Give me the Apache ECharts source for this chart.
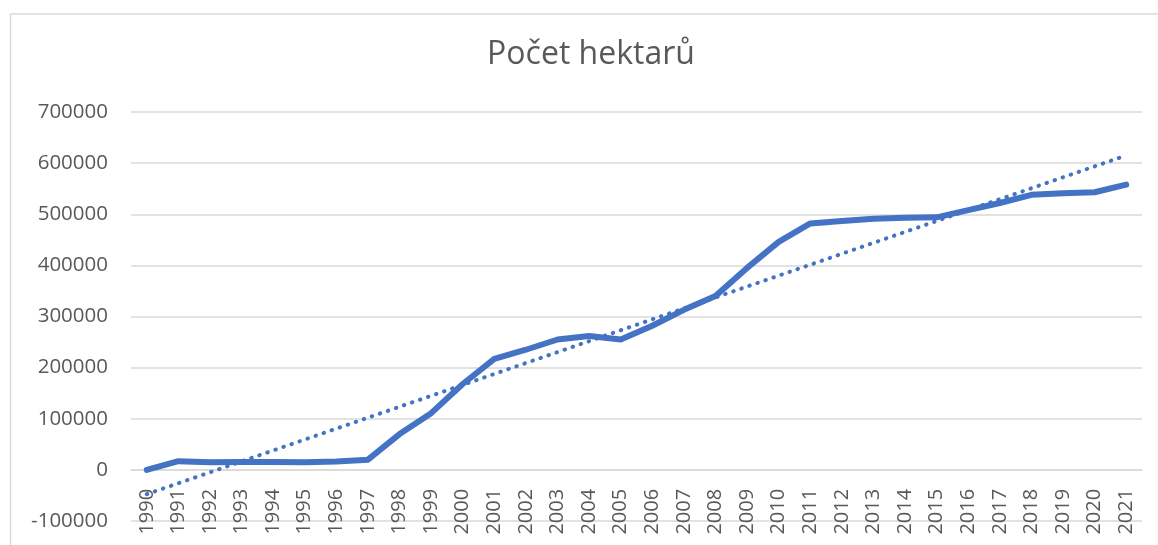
<!DOCTYPE html>
<html>
<head>
<meta charset="utf-8">
<script src="https://cdn.jsdelivr.net/npm/echarts@6/dist/echarts.min.js"></script>
<style>
  html, body { margin: 0; padding: 0; background: #fff; }
  #chart { width: 1158px; height: 545px; }
</style>
</head>
<body>
<div id="chart"></div>
<script>
let years = ['1990', '1991', '1992', '1993', '1994', '1995', '1996', '1997', '1998', '1999',
  '2000', '2001', '2002', '2003', '2004', '2005', '2006', '2007', '2008', '2009',
  '2010', '2011', '2012', '2013', '2014', '2015', '2016', '2017', '2018', '2019',
  '2020', '2021'];
let hectares = [0, 17000, 15000, 15500, 15500, 15000, 16500, 20000, 70000, 111000,
  168000, 217000, 235000, 255000, 262000, 255000, 282000, 313000, 340000, 395000,
  446000, 482000, 487000, 491000, 493000, 494000, 508000, 522000, 538000, 541000,
  543000, 558000];
// trend line end values
let trendEnds = [-47500, 615000];

let textColor = '#595959';
let gridColor = '#d9d9d9';
let font = 'Open Sans';

let gridTop = 112, gridBottom = 24;
// lift the category axis from the bottom (-100000) up to the 0 line
let zeroOffset = -(545 - gridTop - gridBottom) / 8;

let myChart = echarts.init(document.getElementById('chart'));
let option = {
  animation: false,
  title: {
    text: 'Počet hektarů',
    left: 586,
    top: 34,
    textAlign: 'center',
    textStyle: {
      fontFamily: font,
      fontSize: 32,
      fontWeight: 'normal',
      color: textColor
    }
  },
  graphic: [
    {
      type: 'rect',
      shape: { x: 10.5, y: 14, width: 1200, height: 600 },
      style: { fill: 'none', stroke: gridColor, lineWidth: 1.5 },
      silent: true
    }
  ],
  grid: {
    left: 131,
    right: 16,
    top: gridTop,
    bottom: gridBottom,
    containLabel: false,
    outerBoundsMode: 'none'
  },
  xAxis: {
    type: 'category',
    data: years,
    boundaryGap: true,
    offset: zeroOffset,
    axisLine: { show: true, onZero: false, lineStyle: { color: gridColor, width: 1.5 } },
    axisTick: { show: false },
    axisLabel: {
      rotate: 90,
      interval: 0,
      margin: 19,
      color: textColor,
      fontFamily: font,
      fontSize: 20
    }
  },
  yAxis: {
    type: 'value',
    min: -100000,
    max: 700000,
    interval: 100000,
    axisLine: { show: false },
    axisTick: { show: false },
    axisLabel: {
      margin: 23,
      color: textColor,
      fontFamily: font,
      fontSize: 20.5,
      formatter: v => String(v)
    },
    splitLine: { lineStyle: { color: gridColor, width: 1.5 } }
  },
  series: [
    {
      name: 'Počet hektarů',
      type: 'line',
      data: hectares,
      symbol: 'none',
      lineStyle: { color: '#4472C4', width: 6, cap: 'round', join: 'round' },
      z: 3
    },
    {
      name: 'trend',
      type: 'line',
      data: [[years[0], trendEnds[0]], [years[years.length - 1], trendEnds[1]]],
      symbol: 'none',
      lineStyle: { color: '#4472C4', width: 4, type: [0.5, 8], cap: 'round' },
      z: 2
    }
  ]
};
myChart.setOption(option);
</script>
</body>
</html>
